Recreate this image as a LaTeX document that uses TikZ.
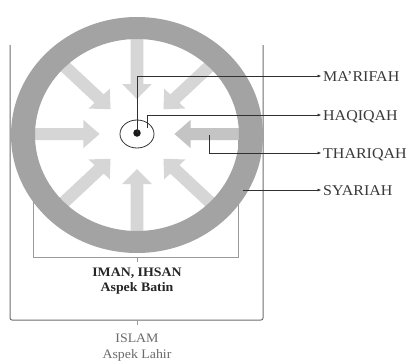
\documentclass[tikz,border=0pt]{standalone}
\usepackage{fontspec}
\setmainfont{Liberation Serif}[FakeStretch=1.07]
\usetikzlibrary{arrows.meta,shapes.geometric}
\definecolor{ringgray}{HTML}{A3A3A3}
\definecolor{arrowlight}{HTML}{D6D6D6}
\definecolor{arrowmid}{HTML}{C4C4C4}
\definecolor{conncol}{HTML}{303030}
\definecolor{boxcol}{HTML}{9A9A9A}
\definecolor{bracketcol}{HTML}{707070}
\definecolor{labcol}{HTML}{3A3A3A}
\definecolor{lowcol}{HTML}{6A6A6A}
\begin{document}
\begin{tikzpicture}[x=1bp,y=-1bp,
  boxline/.style={draw=boxcol, line width=0.6bp},
  bracketline/.style={draw=bracketcol, line width=1bp, rounded corners=2bp},
  conn/.style={draw=conncol, line width=0.7bp, -{Latex[length=4bp,width=3bp]}, shorten >=1.5bp},
  rlabel/.style={anchor=west, inner sep=0pt, text height=10bp, text depth=0pt, font=\fontsize{15}{17}\selectfont, text=labcol},
  blabel/.style={anchor=base, inner sep=0pt, font=\fontsize{13}{15}\selectfont\bfseries, text=black!85},
  llabel/.style={anchor=base, inner sep=0pt, font=\fontsize{13}{15}\selectfont, text=lowcol}]
\useasboundingbox (0,0) rectangle (410,363);
\fill[white] (0,0) rectangle (410,363);

% boxes
\draw[boxline] (33,135) -- (33,257) -- (238,257) -- (238,135);
\draw[boxline] (137,257) -- (137,262);
\draw[bracketline] (10,45) -- (10,320) -- (263,320) -- (263,45);
\draw[boxline] (137,320) -- (137,325);

% inward arrows
\begin{scope}[shift={(137,134)}, xscale=1.07]
  \foreach \a/\c in {0/arrowmid,45/arrowlight,90/arrowlight,135/arrowlight,180/arrowlight,225/arrowlight,270/arrowlight,315/arrowlight}{
    \fill[\c, rotate=\a] (100,-6) -- (50,-6) -- (50,-14) -- (35,0) -- (50,14) -- (50,6) -- (100,6) -- cycle;
  }
\end{scope}

% ring
\fill[ringgray, even odd rule] (137,135) ellipse [x radius=126, y radius=118]
                               (137,135) ellipse [x radius=102, y radius=96];

% center
\node[ellipse, draw=conncol, line width=0.8bp, minimum width=34bp, minimum height=28bp, inner sep=0pt] (hq) at (137,134) {};
\node[circle, fill=black!90, minimum size=7.5bp, inner sep=0pt] (dot) at (137,133) {};

% labels
\node[rlabel] (mar) at (323,76) {MA'RIFAH};
\node[rlabel] (haq) at (323,115) {HAQIQAH};
\node[rlabel] (thr) at (323,153) {THARIQAH};
\node[rlabel] (sya) at (323,190) {SYARIAH};

\node[blabel] (iman) at (137,276) {IMAN, IHSAN};
\node[blabel] (batin) at (137,291) {Aspek Batin};
\node[llabel] (islam) at (137,342) {ISLAM};
\node[llabel] (lahir) at (137,358) {Aspek Lahir};

% connector start points
\coordinate (hqs) at (147,128);
\coordinate (ths) at (209,135);
\coordinate (sys) at (243,190);

\draw[conn] (dot.center) |- (mar.west);
\draw[conn] (hqs) |- (haq.west);
\draw[conn] (ths) |- (thr.west);
\draw[conn] (sys) -- (sya.west);
\end{tikzpicture}
\end{document}
